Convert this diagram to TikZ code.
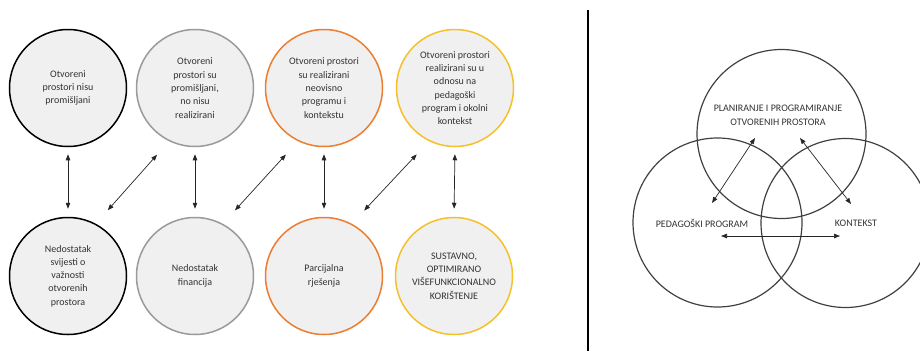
\documentclass[tikz,border=0pt]{standalone}
\usepackage{fontspec}
\setmainfont{Carlito}
\usetikzlibrary{arrows.meta}
\definecolor{cfill}{HTML}{F0F0F0}
\definecolor{cgrey}{HTML}{9A9A9A}
\definecolor{corange}{HTML}{ED7D31}
\definecolor{cyellow}{HTML}{F5C02A}
\definecolor{ctext}{HTML}{333333}
\definecolor{cvenn}{HTML}{404040}
\tikzset{
  stagebox/.style={circle, draw, line width=1.5pt, fill=cfill, minimum size=117pt, inner sep=0pt,
    align=center, text=ctext, font=\fontsize{10}{13.3}\selectfont},
  venncirc/.style={circle, draw=cvenn, line width=1.2pt, minimum size=169pt, inner sep=0pt},
  vennlabel/.style={align=center, text=ctext, font=\fontsize{10}{14}\selectfont, inner sep=0pt},
  arr/.style={{Triangle[length=6pt,width=4.5pt]}-{Triangle[length=6pt,width=4.5pt]}, line width=0.7pt, draw=black!85},
}
\begin{document}
\begin{tikzpicture}[x=1pt,y=-1pt]
\useasboundingbox (0,0) rectangle (920,351);
% top row
\node[stagebox, draw=black]   (t1) at (68,88)  {Otvoreni\\prostori nisu\\promišljani};
\node[stagebox, draw=cgrey]   (t2) at (195,88) {Otvoreni\\prostori su\\promišljani,\\no nisu\\realizirani};
\node[stagebox, draw=corange] (t3) at (324,88) {Otvoreni prostori\\su realizirani\\neovisno\\programu i\\kontekstu};
\node[stagebox, draw=cyellow] (t4) at (455,88) {Otvoreni prostori\\realizirani su u\\odnosu na\\pedagoški\\program i okolni\\kontekst};
% bottom row
\node[stagebox, draw=black]   (b1) at (68,276)  {Nedostatak\\svijesti o\\važnosti\\otvorenih\\prostora};
\node[stagebox, draw=cgrey]   (b2) at (195,276) {Nedostatak\\financija};
\node[stagebox, draw=corange] (b3) at (324,276) {Parcijalna\\rješenja};
\node[stagebox, draw=cyellow] (b4) at (454,276) {SUSTAVNO,\\OPTIMIRANO\\VIŠEFUNKCIONALNO\\KORIŠTENJE};
% vertical arrows
\foreach \i in {1,2,3,4}{
  \draw[arr, shorten <=7pt, shorten >=8pt] (t\i.south) -- (b\i.north);
}
% diagonal arrows
\draw[arr, shorten <=18pt, shorten >=18pt] (b1.62) -- (t2.244);
\draw[arr, shorten <=18pt, shorten >=18pt] (b2.62) -- (t3.244);
\draw[arr, shorten <=18pt, shorten >=18pt] (b3.62) -- (t4.244);
% divider
\coordinate (dtop) at (588,10);
\coordinate (dbot) at (588,351);
\draw[line width=1.2pt] (dtop) -- (dbot);
% Venn
\node[venncirc] (vT) at (781.5,134) {};
\node[venncirc] (vL) at (717.5,222.5) {};
\node[venncirc] (vR) at (845.5,223) {};
\node[vennlabel] (plan) at (778,115) {PLANIRANJE I PROGRAMIRANJE\\OTVORENIH PROSTORA};
\node[vennlabel] (ped) at (702,223) {PEDAGOŠKI PROGRAM};
\node[vennlabel] (kon) at (856,223) {KONTEKST};
\coordinate (a1s) at (712,203);
\coordinate (a1e) at (755,138);
\coordinate (a2s) at (800,138);
\coordinate (a2e) at (851,204);
\coordinate (a3s) at (721,236);
\coordinate (a3e) at (840,236);
\draw[arr] (a1s) -- (a1e);
\draw[arr] (a2s) -- (a2e);
\draw[arr] (a3s) -- (a3e);
\end{tikzpicture}
\end{document}
